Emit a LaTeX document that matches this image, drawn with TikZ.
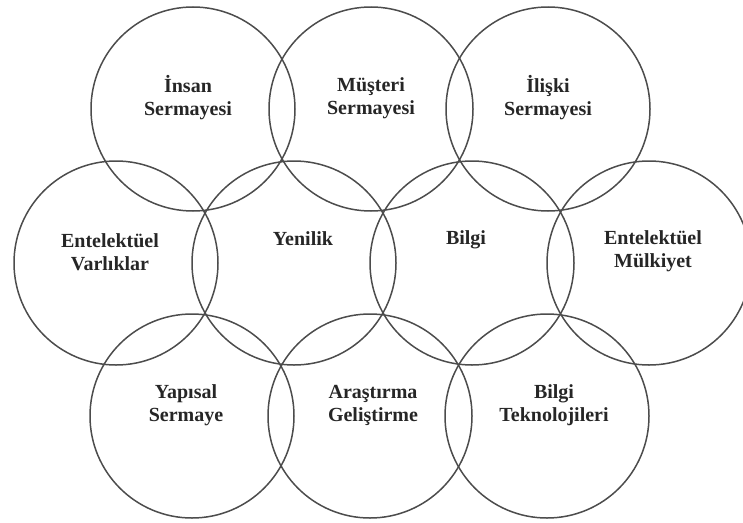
\documentclass[tikz,border=0pt]{standalone}
\usepackage{fontspec}
\setmainfont{Liberation Serif}
\usetikzlibrary{positioning}

\begin{document}
\begin{tikzpicture}[x=1pt,y=-1pt,
    ring/.style={circle,draw=black!70,line width=1.5pt,minimum size=204pt,inner sep=0pt},
    lbl/.style={align=center,text=black!85,font=\fontsize{20}{23}\selectfont\bfseries}]
      \useasboundingbox (0,0) rectangle (743,522);
      % top row
      \node[ring] (ins) at (193,109) {};
      \node[ring] (mus) at (371,109) {};
      \node[ring] (ili) at (548,109) {};
      % middle row
      \node[ring] (var) at (116,263) {};
      \node[ring] (yen) at (294,263) {};
      \node[ring] (bil) at (472,263) {};
      \node[ring] (mul) at (649,263) {};
      % bottom row
      \node[ring] (yap) at (192,416) {};
      \node[ring] (ars) at (370,416) {};
      \node[ring] (tek) at (547,416) {};
      % labels
      \node[lbl] (insl) at ([xshift=-5pt,yshift=11pt]ins.center) {İnsan\\Sermayesi};
      \node[lbl] (musl) at ([yshift=11pt]mus.center) {Müşteri\\Sermayesi};
      \node[lbl] (ilil) at ([yshift=11pt]ili.center) {İlişki\\Sermayesi};
      \node[lbl] (varl) at ([xshift=-6pt,yshift=11pt]var.center) {Entelektüel\\Varlıklar};
      \node[lbl] (yenl) at ([xshift=9pt,yshift=24pt]yen.center) {Yenilik};
      \node[lbl] (bill) at ([xshift=-6pt,yshift=23pt]bil.center) {Bilgi};
      \node[lbl] (mull) at ([xshift=4pt,yshift=12pt]mul.center) {Entelektüel\\Mülkiyet};
      \node[lbl] (yapl) at ([xshift=-6pt,yshift=11pt]yap.center) {Yapısal\\Sermaye};
      \node[lbl] (arsl) at ([xshift=3pt,yshift=11pt]ars.center) {Araştırma\\Geliştirme};
      \node[lbl] (tekl) at ([xshift=7pt,yshift=11pt]tek.center) {Bilgi\\Teknolojileri};
    \end{tikzpicture}
\end{document}
